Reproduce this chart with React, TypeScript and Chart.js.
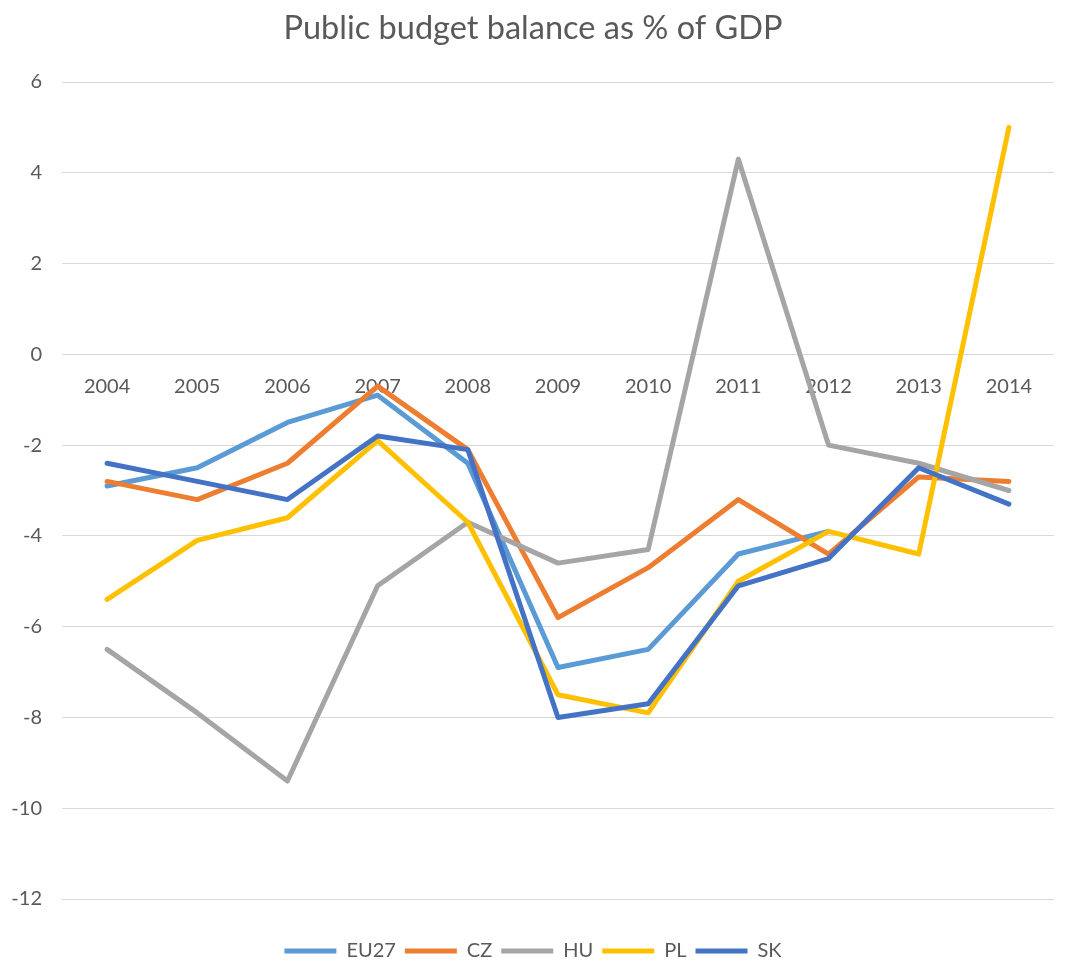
import React, { useEffect, useRef } from 'react';
import { Chart, registerables } from 'chart.js';

Chart.register(...registerables);

const years = ['2004', '2005', '2006', '2007', '2008', '2009', '2010', '2011', '2012', '2013', '2014'];
const eu27 = [-2.9, -2.5, -1.5, -0.9, -2.4, -6.9, -6.5, -4.4, -3.9, null, null];
const cz = [-2.8, -3.2, -2.4, -0.7, -2.1, -5.8, -4.7, -3.2, -4.4, -2.7, -2.8];
const hu = [-6.5, -7.9, -9.4, -5.1, -3.7, -4.6, -4.3, 4.3, -2.0, -2.4, -3.0];
const pl = [-5.4, -4.1, -3.6, -1.9, -3.7, -7.5, -7.9, -5.0, -3.9, -4.4, 5.0];
const sk = [-2.4, -2.8, -3.2, -1.8, -2.1, -8.0, -7.7, -5.1, -4.5, -2.5, -3.3];
const seriesNames = ['EU27', 'CZ', 'HU', 'PL', 'SK'];
const seriesColors = ['#5B9BD5', '#ED7D31', '#A5A5A5', '#FFC000', '#4472C4'];
const yMin = -12;
const yMax = 6;
const yStep = 2;
const titleText = 'Public budget balance as % of GDP';

const FONT = 'Lato';
const TEXT = '#595959';

export default function App() {
  const ref = useRef<HTMLCanvasElement | null>(null);

  useEffect(() => {
    if (!ref.current) return;
    const values = [eu27, cz, hu, pl, sk];
    const datasets = values.map((d, i) => ({
      label: seriesNames[i],
      data: d,
      borderColor: seriesColors[i],
      backgroundColor: seriesColors[i],
      borderWidth: 5,
      pointRadius: 0,
      pointHoverRadius: 0,
      tension: 0,
      borderCapStyle: 'round' as const,
      borderJoinStyle: 'round' as const,
      spanGaps: false,
      fill: false,
      order: values.length - 1 - i,
    }));

    const chart = new Chart(ref.current, {
      type: 'line',
      data: { labels: years, datasets },
      options: {
        animation: false,
        responsive: false,
        maintainAspectRatio: false,
        layout: { padding: 0 },
        plugins: {
          title: {
            display: true,
            text: titleText,
            color: TEXT,
            font: { family: FONT, size: 32.5, weight: 'normal' },
            padding: { top: 9, bottom: 34 },
          },
          legend: {
            position: 'bottom',
            maxHeight: 30,
            labels: {
              usePointStyle: true,
              pointStyle: 'line',
              pointStyleWidth: 52,
              color: TEXT,
              font: { family: FONT, size: 20 },
              padding: 9,
              sort: (a: any, b: any) => a.datasetIndex - b.datasetIndex,
            },
          },
          tooltip: { enabled: false },
        },
        scales: {
          x: {
            type: 'category',
            position: { y: 0 } as any,
            offset: true,
            grid: { display: false, drawTicks: false },
            border: { display: false },
            ticks: {
              color: TEXT,
              font: { family: FONT, size: 20 },
              padding: 20,
              maxRotation: 0,
              autoSkip: false,
            },
          },
          xGap: {
            type: 'category',
            position: 'bottom',
            offset: true,
            grid: { display: false, drawTicks: false },
            border: { display: false },
            ticks: { display: false },
            afterFit: (scale: any) => {
              scale.height = 33;
            },
          },
          y: {
            min: yMin,
            max: yMax,
            grid: { color: '#D9D9D9', lineWidth: 1, drawTicks: false },
            border: { display: false },
            ticks: {
              stepSize: yStep,
              color: TEXT,
              font: { family: FONT, size: 20 },
              padding: 20,
            },
            afterFit: (scale: any) => {
              scale.width = 62;
            },
          },
          yGap: {
            type: 'linear',
            position: 'right',
            min: yMin,
            max: yMax,
            grid: { display: false, drawTicks: false },
            border: { display: false },
            ticks: { display: false },
            afterFit: (scale: any) => {
              scale.width = 12;
            },
          },
        },
      },
    });
    return () => chart.destroy();
  }, []);

  return (
    <div style={{ position: 'fixed', left: 0, top: 0, width: 1066, height: 962, background: '#fff' }}>
      <canvas ref={ref} width={1066} height={962} style={{ width: 1066, height: 962, display: 'block' }} />
    </div>
  );
}
